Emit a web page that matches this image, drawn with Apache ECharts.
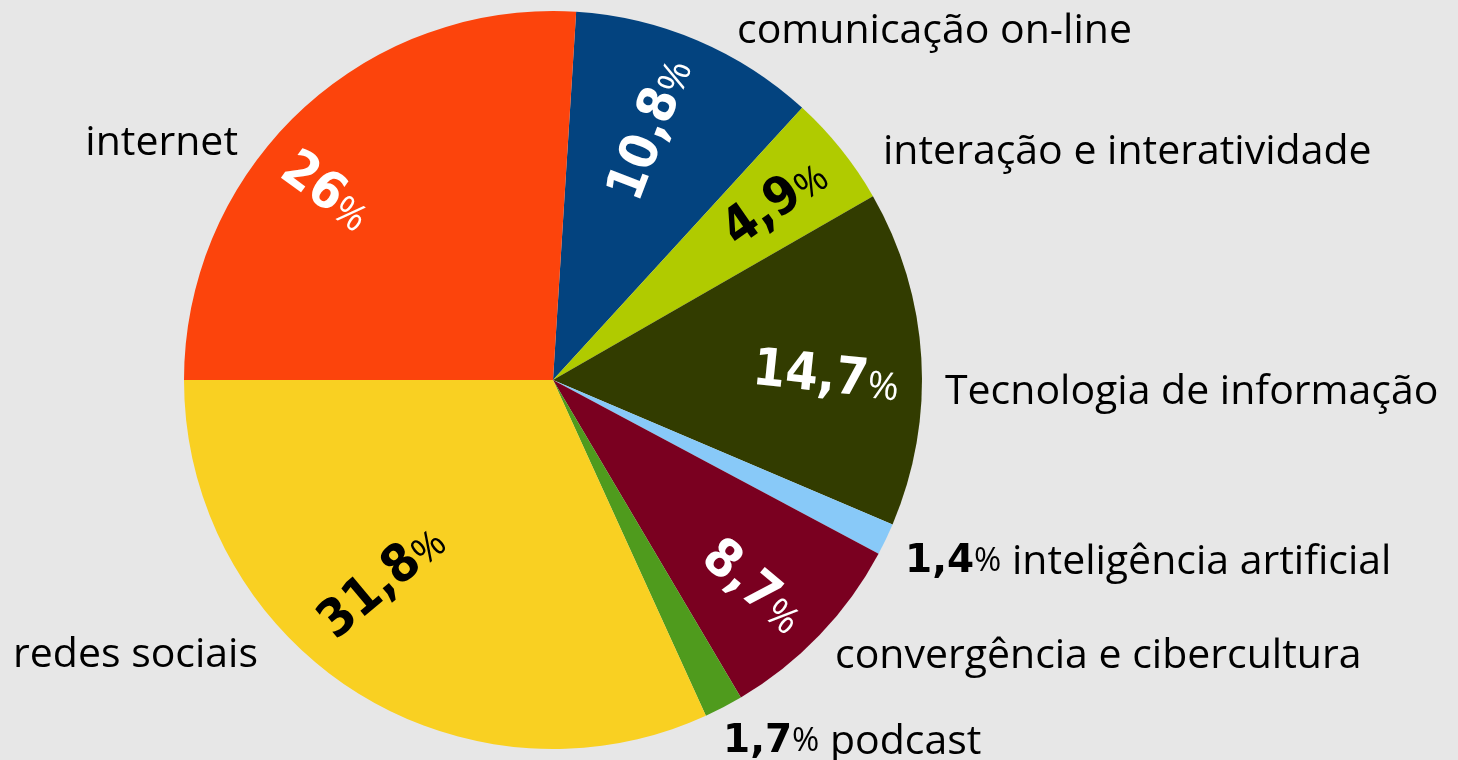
<!DOCTYPE html>
<html>
<head>
<meta charset="utf-8">
<script src="https://cdn.jsdelivr.net/npm/echarts@6/dist/echarts.min.js"></script>
<style>
html, body { margin: 0; padding: 0; background: #e7e7e7; }
#pie-chart { width: 1458px; height: 760px; }
</style>
</head>
<body>
<div id="pie-chart"></div>
<script>
// categories, clockwise from the top
var categories = ['comunicação on-line', 'interação e interatividade', 'Tecnologia de informação',
    'inteligência artificial', 'convergência e cibercultura', 'podcast', 'redes sociais', 'internet'];
var percents = [10.8, 4.9, 14.7, 1.4, 8.7, 1.7, 31.8, 26];

var sliceColors = ['#03437f', '#b0cb00', '#323c00', '#88c9f8', '#7a0020', '#4f9b1d', '#f9d022', '#fc440c'];

// outside names: [x, baseline y, align]
var outerAnchor = [
    [737, 41, 'left'], [883, 162, 'left'], [945, 402, 'left'], [905, 572, 'left'],
    [835, 666, 'left'], [723, 752, 'left'], [258, 665, 'right'], [238, 153, 'right']
];
// inside values: [x, y, rotate]
var innerAnchor = [
    [652, 130, 69], [776, 204, 35], [826, 378, -6], [0, 0, 0],
    [752, 588, -40], [0, 0, 0], [383, 583, 40], [325, 193, -36]
];

function fmt(v) {
    return String(v).replace('.', ',');
}
function isLight(hex) {
    var r = parseInt(hex.substr(1, 2), 16), g = parseInt(hex.substr(3, 2), 16), b = parseInt(hex.substr(5, 2), 16);
    return (0.299 * r + 0.587 * g + 0.114 * b) > 150;
}

var pieData = categories.map(function (name, i) {
    return { name: name, value: percents[i] };
});

var pie_chart = echarts.init(document.getElementById('pie-chart'));
pie_chart.setOption({
    backgroundColor: '#e7e7e7',
    color: sliceColors,
    animation: false,
    series: [
        {
            name: 'temas',
            type: 'pie',
            center: [553, 380],
            radius: 369,
            startAngle: 86.4,
            clockwise: true,
            avoidLabelOverlap: false,
            emphasis: { disabled: true },
            label: {
                show: true,
                position: 'outside',
                color: '#000',
                fontFamily: 'Open Sans',
                fontSize: 41,
                formatter: function (p) {
                    var v = percents[p.dataIndex];
                    return v < 2 ? '{b|' + fmt(v) + '}{p|%} ' + p.name : p.name;
                },
                rich: {
                    b: { fontFamily: 'DejaVu Sans', fontWeight: 'bold', fontSize: 39, color: '#000' },
                    p: { fontFamily: 'Open Sans', fontSize: 33, color: '#000' }
                }
            },
            labelLine: { show: false },
            labelLayout: function (p) {
                var a = outerAnchor[p.dataIndex];
                return { x: a[0], y: a[1] - 10, align: a[2], verticalAlign: 'middle' };
            },
            data: pieData
        },
        {
            name: 'valores',
            type: 'pie',
            center: [553, 380],
            radius: 369,
            startAngle: 86.4,
            clockwise: true,
            silent: true,
            avoidLabelOverlap: false,
            itemStyle: { color: 'rgba(0,0,0,0)' },
            label: {
                show: true,
                position: 'inside',
                formatter: function (p) {
                    var v = percents[p.dataIndex];
                    if (v < 2) return '';
                    var k = isLight(sliceColors[p.dataIndex]) ? 'k' : 'w';
                    return '{n' + k + '|' + fmt(v) + '}{p' + k + '|%}';
                },
                rich: {
                    nw: { fontFamily: 'DejaVu Sans Condensed', fontWeight: 'bold', fontSize: 52, color: '#fff', verticalAlign: 'bottom' },
                    pw: { fontFamily: 'Open Sans', fontSize: 38, color: '#fff', verticalAlign: 'bottom', padding: [0, 0, 3, 0] },
                    nk: { fontFamily: 'DejaVu Sans Condensed', fontWeight: 'bold', fontSize: 52, color: '#000', verticalAlign: 'bottom' },
                    pk: { fontFamily: 'Open Sans', fontSize: 38, color: '#000', verticalAlign: 'bottom', padding: [0, 0, 3, 0] }
                }
            },
            labelLine: { show: false },
            labelLayout: function (p) {
                var a = innerAnchor[p.dataIndex];
                return { x: a[0], y: a[1], rotate: a[2], align: 'center', verticalAlign: 'middle' };
            },
            data: pieData
        }
    ]
});
</script>
</body>
</html>
